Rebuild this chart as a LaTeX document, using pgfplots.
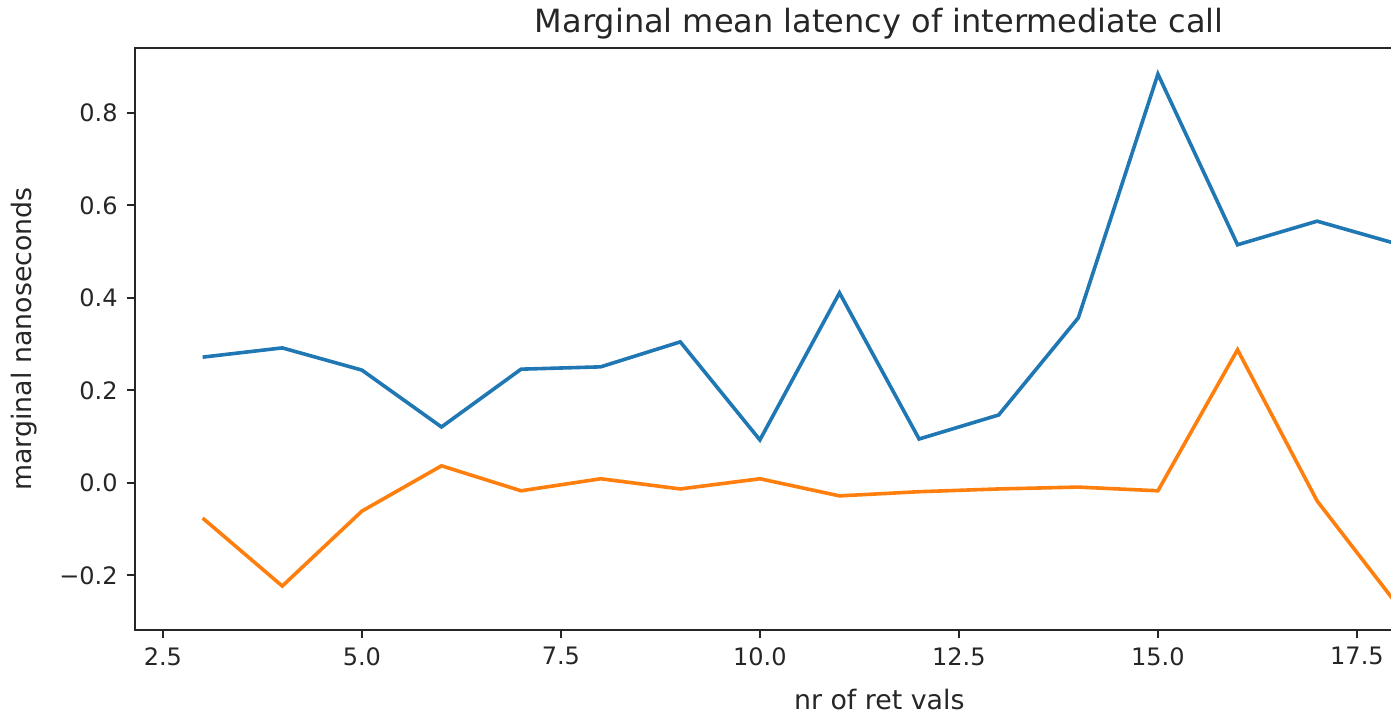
\documentclass[border=0pt]{standalone}
\usepackage{fontspec}
\setmainfont{DejaVu Sans}
\usepackage{pgfplots}
\pgfplotsset{compat=1.18}
\definecolor{mplblue}{HTML}{1F77B4}
\definecolor{mplorange}{HTML}{FF7F0E}
\definecolor{txt}{HTML}{262626}
\pgfplotsset{every axis title/.style={at={(0.5,1)}, anchor=base, yshift=7.5pt}}
\begin{document}
\begin{tikzpicture}
\useasboundingbox (-67.5pt,-42.5pt) rectangle (628pt,315pt);
\clip (-67.5pt,-42.5pt) rectangle (628pt,315pt);
\begin{axis}[
  scale only axis,
  width=744.3pt, height=291pt,
  xmin=2.15, xmax=20.85,
  ymin=-0.318, ymax=0.9405,
  axis line style={line width=0.96pt, black!85},
  tick style={line width=0.96pt, black!85},
  major tick length=4.2pt,
  tick align=outside,
  xtick pos=bottom, ytick pos=left,
  xtick={2.5,5,7.5,10,12.5,15,17.5},
  xticklabels={2.5,5.0,7.5,10.0,12.5,15.0,17.5},
  ytick={-0.2,0,0.2,0.4,0.6,0.8},
  yticklabels={−0.2,0.0,0.2,0.4,0.6,0.8},
  ticklabel style={font=\fontsize{12}{14}\selectfont, text=txt},
  xticklabel style={yshift=-1pt},
  yticklabel style={xshift=-1pt},
  title={Marginal mean latency of intermediate call},
  title style={font=\fontsize{16}{19}\selectfont, text=txt},
  xlabel={nr of ret vals},
  ylabel={marginal nanoseconds},
  label style={font=\fontsize{13.4}{16}\selectfont, text=txt},
  xlabel style={yshift=-5pt},
  ylabel style={yshift=4pt},
]
\addplot[mplblue, line width=1.8pt] coordinates {
(3,0.272) (4,0.292) (5,0.244) (6,0.121) (7,0.246) (8,0.251) (9,0.305)
(10,0.093) (11,0.411) (12,0.095) (13,0.147) (14,0.357) (15,0.884)
(16,0.515) (17,0.566) (18,0.517)
};
\addplot[mplorange, line width=1.8pt] coordinates {
(3,-0.076) (4,-0.223) (5,-0.061) (6,0.037) (7,-0.017) (8,0.009) (9,-0.013)
(10,0.009) (11,-0.028) (12,-0.019) (13,-0.013) (14,-0.009) (15,-0.017)
(16,0.288) (17,-0.039) (18,-0.262)
};
\end{axis}
\end{tikzpicture}
\end{document}
